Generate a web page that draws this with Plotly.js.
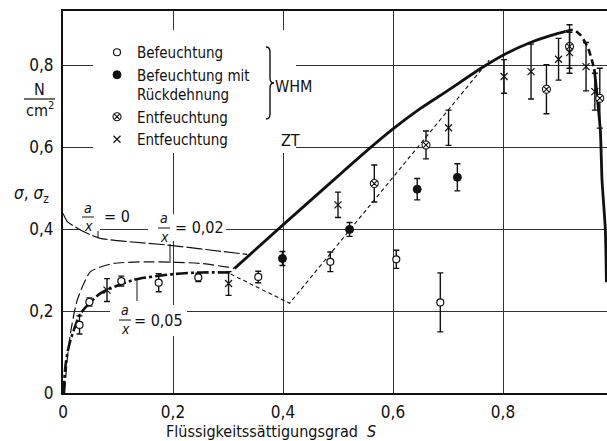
<!DOCTYPE html>
<html><head><meta charset="utf-8">
<script src="https://cdn.plot.ly/plotly-3.0.1.min.js"></script>
<style>body{margin:0;background:#fff}#chart{width:607px;height:441px}</style>
</head><body><div id="chart"></div>
<script>
// ---- data ----
const befX = [0.030, 0.048, 0.106, 0.174, 0.246, 0.355, 0.486, 0.606, 0.686];
const befY = [0.166, 0.222, 0.273, 0.269, 0.282, 0.283, 0.320, 0.326, 0.221];
const befE = [0.022, 0.010, 0.012, 0.022, 0.010, 0.014, 0.024, 0.022, 0.072];

const rueckX = [0.399, 0.521, 0.644, 0.717];
const rueckY = [0.328, 0.399, 0.497, 0.526];
const rueckE = [0.017, 0.017, 0.026, 0.033];

const entWX = [0.566, 0.660, 0.879, 0.921, 0.976];
const entWY = [0.511, 0.605, 0.741, 0.845, 0.719];
const entWE = [0.045, 0.034, 0.060, 0.053, 0.073];

const ztX = [0.080, 0.301, 0.500, 0.701, 0.802, 0.851, 0.901, 0.921, 0.951, 0.967];
const ztY = [0.251, 0.267, 0.459, 0.647, 0.772, 0.784, 0.814, 0.830, 0.796, 0.735];
const ztE = [0.028, 0.029, 0.031, 0.043, 0.041, 0.067, 0.051, 0.050, 0.059, 0.045];

// curves
const c0X = [0, 0.008, 0.026, 0.05, 0.068, 0.12, 0.189, 0.26, 0.335];
const c0Y = [0.438, 0.418, 0.402, 0.386, 0.377, 0.369, 0.361, 0.350, 0.338];
const c02X = [0.003, 0.0076, 0.0136, 0.026, 0.05, 0.092, 0.165, 0.25, 0.312];
const c02Y = [0, 0.08, 0.146, 0.227, 0.296, 0.316, 0.320, 0.316, 0.304];
const c05X = [0.001, 0.004, 0.0076, 0.0136, 0.032, 0.068, 0.129, 0.2, 0.25, 0.305];
const c05Y = [0, 0.06, 0.095, 0.129, 0.194, 0.243, 0.276, 0.290, 0.294, 0.294];
const ztLX = [0.305, 0.412, 0.775];
const ztLY = [0.290, 0.219, 0.812];
const thickX = [0.312, 0.4, 0.5, 0.55, 0.6, 0.65, 0.7, 0.76, 0.8, 0.85, 0.9, 0.914];
const thickY = [0.304, 0.41, 0.529, 0.588, 0.644, 0.694, 0.738, 0.792, 0.824, 0.855, 0.877, 0.882];
const peakX = [0.914, 0.928, 0.941, 0.955, 0.966];
const peakY = [0.882, 0.886, 0.873, 0.840, 0.790];
const dropX = [0.966, 0.970, 0.977, 0.980, 0.986, 0.988];
const dropY = [0.790, 0.740, 0.640, 0.520, 0.400, 0.270];

const tickVals = [0, 0.2, 0.4, 0.6, 0.8];
const tickText = ['0', '0,2', '0,4', '0,6', '0,8'];
const seriesNames = ['Befeuchtung', 'Befeuchtung mit<br>Rückdehnung', 'Entfeuchtung', 'Entfeuchtung'];

// ---- helpers for decorations (pixel -> data / paper) ----
const L = 63, B = 393, SX = 550, SY = 410, PW = 544, PH = 382;
const X = p => (p - L) / SX;
const Y = p => (B - p) / SY;
const PXf = p => (p - L) / PW;
const PYf = p => (B - p) / PH;
const FONT = 'Liberation Sans Narrow, DejaVu Sans Condensed, Arial Narrow, sans-serif';
const INK = '#111';

function errTrace(x, y, e, marker, name) {
  return {x, y, type: 'scatter', mode: 'markers', name, showlegend: true,
    error_y: {type: 'data', array: e, visible: true, thickness: 1.4, width: 3, color: INK},
    marker, cliponaxis: false};
}
function lineTrace(x, y, width, dash, name, shape) {
  return {x, y, type: 'scatter', mode: 'lines', name, showlegend: false, hoverinfo: 'skip',
    line: {color: INK, width, dash, shape: shape || 'spline', smoothing: 0.6}};
}

const traces = [
  lineTrace(c0X, c0Y, 1.2, '16px,3px', 'a/x=0'),
  lineTrace(c02X, c02Y, 1.2, '11px,4px', 'a/x=0,02'),
  lineTrace(c05X, c05Y, 2.6, '12px,3px,3px,3px', 'a/x=0,05'),
  lineTrace(ztLX, ztLY, 1.1, '4px,3px', 'ZT', 'linear'),
  lineTrace(thickX, thickY, 2.8, 'solid', 'WHM'),
  lineTrace(peakX, peakY, 2.6, '7px,4px', 'WHM2'),
  lineTrace(dropX, dropY, 2.8, 'solid', 'WHM3'),
  errTrace(befX, befY, befE, {symbol: 'circle', size: 7, color: '#fff', line: {color: INK, width: 1.2}}, seriesNames[0]),
  errTrace(rueckX, rueckY, rueckE, {symbol: 'circle', size: 8, color: INK, line: {color: INK, width: 1}}, seriesNames[1]),
  errTrace(entWX, entWY, entWE, {symbol: 'circle-x', size: 8, color: '#fff', line: {color: INK, width: 1.1}}, seriesNames[2]),
  errTrace(ztX, ztY, ztE, {symbol: 'x-thin', size: 7, color: INK, line: {color: INK, width: 1.2}}, seriesNames[3]),
];

function ann(text, px, py, size, xanchor, extra) {
  return Object.assign({text, x: X(px), y: Y(py), xref: 'x', yref: 'y', showarrow: false, borderpad: 0,
    xanchor: xanchor || 'center', yanchor: 'middle', font: {family: FONT, size: size || 16, color: INK}}, extra || {});
}
function pann(text, px, py, size, xanchor) {
  return {text, x: PXf(px), y: PYf(py), xref: 'paper', yref: 'paper', showarrow: false, borderpad: 0,
    xanchor: xanchor || 'center', yanchor: 'middle', font: {family: FONT, size: size || 16, color: INK}};
}
function seg(x0, y0, x1, y1, w) {
  return {type: 'line', xref: 'x', yref: 'y', x0: X(x0), y0: Y(y0), x1: X(x1), y1: Y(y1),
    line: {color: INK, width: w || 1}};
}
function pseg(x0, y0, x1, y1, w) {
  return {type: 'line', xref: 'paper', yref: 'paper', x0: PXf(x0), y0: PYf(y0), x1: PXf(x1), y1: PYf(y1),
    line: {color: INK, width: w || 1}};
}
function blank(x0, y0, x1, y1) {
  return {type: 'rect', layer: 'between', xref: 'x', yref: 'y', x0: X(x0), y0: Y(y0), x1: X(x1), y1: Y(y1),
    fillcolor: '#fff', line: {width: 0}};
}

const annotations = [
  ann('WHM', 274, 86, 16, 'left'),
  ann('ZT', 290, 140, 16),
  // y-axis unit and symbol
  pann('N', 39, 89, 16), pann('cm<sup>2</sup>', 40, 110, 16),
  pann('<i>σ</i>, <i>σ</i><sub>z</sub>', 31, 195, 17),
  // x-axis title
  pann('Flüssigkeitssättigungsgrad &nbsp;<i>S</i>', 271, 431, 16),
  // curve labels
  ann('<i>a</i>', 88, 208, 14), ann('<i>x</i>', 88, 226, 14), ann('= 0', 103, 216, 16, 'left'),
  ann('<i>a</i>', 164, 218, 14), ann('<i>x</i>', 164, 237, 14), ann('= 0,02', 174, 227, 16, 'left'),
  ann('<i>a</i>', 125, 310, 14), ann('<i>x</i>', 125, 329, 14), ann('= 0,05', 133, 320, 16, 'left'),
];

const bx = 266, by0 = 47, by1 = 119, bm = 83;
const brace = {type: 'path', xref: 'x', yref: 'y', line: {color: INK, width: 1.4},
  path: `M ${X(bx)},${Y(by0)} Q ${X(bx+4)},${Y(by0)} ${X(bx+4)},${Y(by0+5)} L ${X(bx+4)},${Y(bm-5)} Q ${X(bx+4)},${Y(bm)} ${X(bx+8)},${Y(bm)} Q ${X(bx+4)},${Y(bm)} ${X(bx+4)},${Y(bm+5)} L ${X(bx+4)},${Y(by1-5)} Q ${X(bx+4)},${Y(by1)} ${X(bx)},${Y(by1)}`};

const shapes = [
  blank(93, 30, 296, 153),
  blank(80, 204, 100, 233),
  blank(148, 214, 226, 241),
  blank(110, 305, 187, 336),
  pseg(24, 99, 55, 99, 1.2),
  seg(82, 217, 94, 217, 1), seg(98, 231, 98, 238, 1),
  seg(158, 228, 170, 228, 1), seg(170, 244, 170, 263, 1),
  seg(119, 320, 131, 320, 1), seg(137, 280, 137, 301, 1),
  brace,
];

const layout = {
  width: 607, height: 441,
  margin: {l: L, r: 0, t: 11, b: 48, pad: 0},
  paper_bgcolor: '#fff', plot_bgcolor: '#fff',
  showlegend: true,
  legend: {x: PXf(97), y: PYf(36), xanchor: 'left', yanchor: 'top', bgcolor: 'rgba(0,0,0,0)',
    borderwidth: 0, font: {family: FONT, size: 15, color: INK}, tracegroupgap: 0,
    itemwidth: 30, valign: 'top', traceorder: 'normal'},
  xaxis: {range: [0, PW / SX], tickvals: tickVals, ticktext: tickText, ticks: '',
    showline: true, linecolor: INK, linewidth: 2, mirror: true,
    showgrid: true, gridcolor: '#333', gridwidth: 1, zeroline: false,
    tickfont: {family: FONT, size: 17, color: INK}, ticklabelstandoff: 3},
  yaxis: {range: [0, PH / SY], tickvals: tickVals, ticktext: tickText, ticks: '',
    showline: true, linecolor: INK, linewidth: 2,
    showgrid: true, gridcolor: '#333', gridwidth: 1, zeroline: false,
    tickfont: {family: FONT, size: 17, color: INK}, ticklabelstandoff: 4},
  annotations, shapes,
};

Plotly.newPlot('chart', traces, layout, {displayModeBar: false, staticPlot: true});
</script>
</body></html>
